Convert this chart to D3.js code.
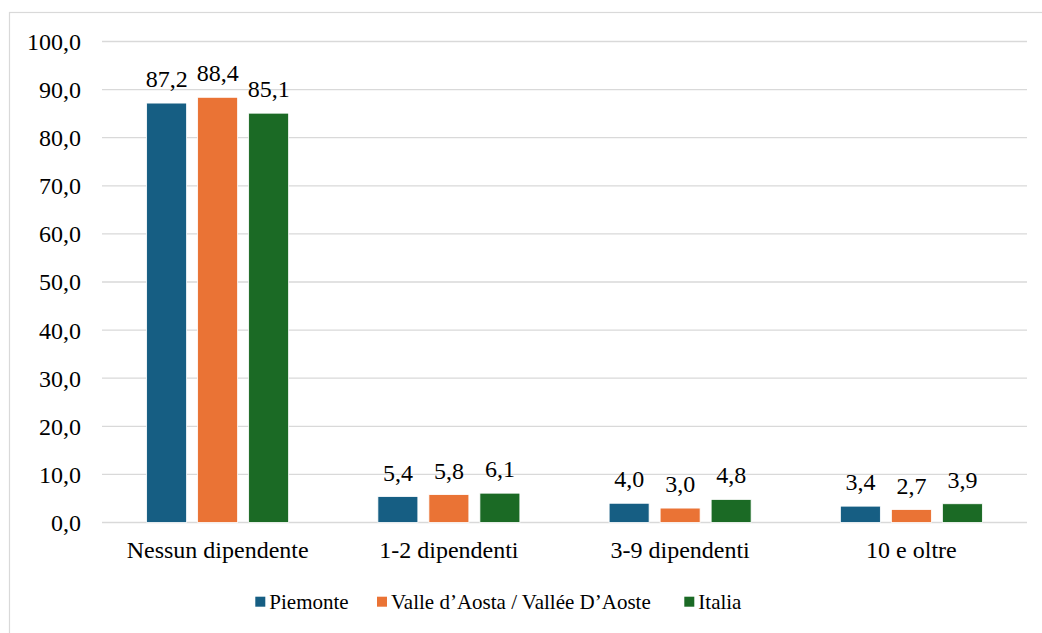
<!DOCTYPE html>
<html><head><meta charset="utf-8">
<script src="https://cdn.jsdelivr.net/npm/d3@7"></script>
<style>body{margin:0;background:#fff}svg{display:block}</style>
</head><body>
<script>
const categories = ["Nessun dipendente", "1-2 dipendenti", "3-9 dipendenti", "10 e oltre"];
const seriesNames = ["Piemonte", "Valle d\u2019Aosta / Vall\u00e9e D\u2019Aoste", "Italia"];
const piemonte = [87.2, 5.4, 4.0, 3.4];
const valleAosta = [88.4, 5.8, 3.0, 2.7];
const italia = [85.1, 6.1, 4.8, 3.9];
const yTicks = [0, 10, 20, 30, 40, 50, 60, 70, 80, 90, 100];
const colors = ["#165E83", "#EA7335", "#1B6A25"];

const FONT = "'Liberation Serif'";
const W = 1042, H = 633;
const svg = d3.select("body").append("svg").attr("width", W).attr("height", H);
svg.append("rect").attr("x", 9.5).attr("y", 12.5).attr("width", 1100).attr("height", 700)
  .attr("fill", "#fff").attr("stroke", "#d9d9d9").attr("stroke-width", 1.2);

const values = [piemonte, valleAosta, italia];
const x = d3.scaleBand().domain(categories).range([102, 1027]).padding(0);
const xs = d3.scaleBand().domain(d3.range(3)).range([-71, 71]).paddingInner(0.216);
const y = d3.scaleLinear().domain([0, 100]).range([522.5, 41.5]);

svg.append("g").selectAll("line").data(yTicks).join("line")
  .attr("x1", 102).attr("x2", 1027)
  .attr("y1", d => y(d)).attr("y2", d => y(d))
  .attr("stroke", "#d9d9d9").attr("stroke-width", 1.3);

const fmt = d => d3.format(".1f")(d).replace(".", ",");
const yAxis = d3.axisLeft(y).tickValues(yTicks).tickFormat(fmt).tickSize(0).tickPadding(0);
const ga = svg.append("g").attr("transform", "translate(81,0)").call(yAxis);
ga.attr("font-family", null).attr("font-size", null);
ga.select(".domain").remove();
ga.selectAll("text").style("font-family", FONT).style("font-size", "24px").attr("fill", "#000").attr("dy", "0.33em");

const groups = svg.append("g").selectAll("g").data(categories).join("g")
  .attr("transform", d => `translate(${x(d) + x.bandwidth() / 2},0)`);
groups.each(function (c, ci) {
  const g = d3.select(this);
  const data = values.map((s, si) => ({ si, v: s[ci] }));
  g.selectAll("rect").data(data).join("rect")
    .attr("x", d => xs(d.si)).attr("width", xs.bandwidth())
    .attr("y", d => y(d.v)).attr("height", d => y(0) - y(d.v))
    .attr("fill", d => colors[d.si]).attr("stroke", "#fff").attr("stroke-width", 0.8);
  g.selectAll("text.lbl").data(data).join("text").attr("class", "lbl")
    .attr("x", d => xs(d.si) + xs.bandwidth() / 2).attr("y", d => y(d.v) - 16)
    .attr("text-anchor", "middle").style("font-family", FONT).style("font-size", "24px").text(d => fmt(d.v));
});

const xAxis = d3.axisBottom(x).tickSize(0).tickPadding(0);
const gx = svg.append("g").attr("transform", "translate(0,541)").call(xAxis);
gx.attr("font-family", null).attr("font-size", null);
gx.select(".domain").remove();
gx.selectAll("text").style("font-family", FONT).style("font-size", "24px").attr("fill", "#000").attr("dy", "0.7em");

const legendX = [255.3, 377, 684.3];
const lg = svg.append("g").selectAll("g").data(seriesNames).join("g")
  .attr("transform", (d, i) => `translate(${legendX[i]},0)`);
lg.append("rect").attr("x", 0).attr("y", 596.7).attr("width", 10).attr("height", 10)
  .attr("fill", (d, i) => colors[i]);
lg.append("text").attr("x", 14).attr("y", 609).style("font-family", FONT).style("font-size", "21px").text(d => d);
</script>
</body></html>
